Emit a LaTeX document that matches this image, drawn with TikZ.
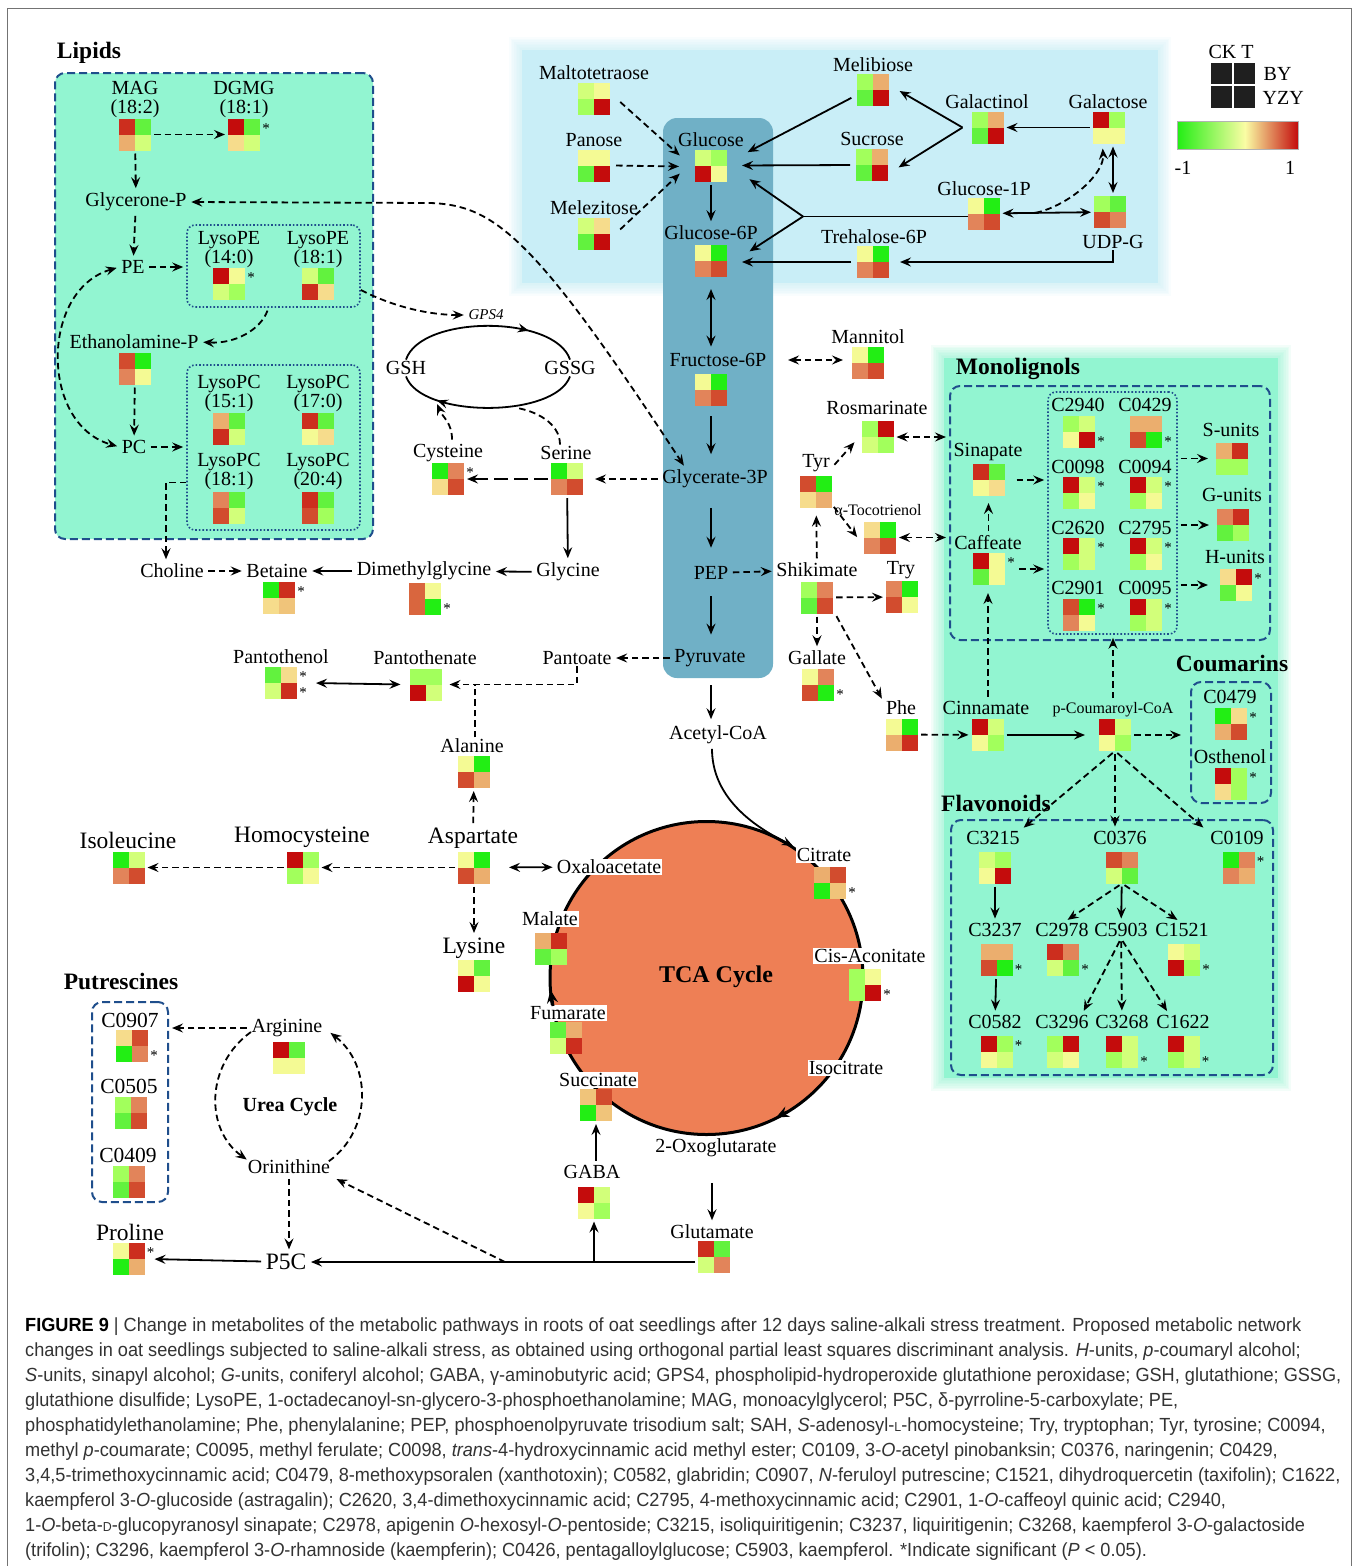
\documentclass[tikz,border=0pt]{standalone}
\usepackage{fontspec}
\setmainfont{Liberation Serif}
\newfontfamily\capfont[FakeStretch=0.955]{Liberation Sans}
\usetikzlibrary{arrows.meta,decorations.markings,calc}

\definecolor{cR}{HTML}{C40C0C}
\definecolor{cRR}{HTML}{CC2E1E}
\definecolor{cOR}{HTML}{D24C2E}
\definecolor{cOO}{HTML}{D9663E}
\definecolor{cO}{HTML}{E2845A}
\definecolor{cLO}{HTML}{EBAE6E}
\definecolor{cBO}{HTML}{F0C47A}
\definecolor{cBY}{HTML}{F6DC8C}
\definecolor{cPY}{HTML}{F4FA94}
\definecolor{cYG}{HTML}{D2FF7A}
\definecolor{cLG}{HTML}{A2FF5C}
\definecolor{cG}{HTML}{62F23E}
\definecolor{cGG}{HTML}{22EE14}
\definecolor{mint}{HTML}{92F5D1}
\definecolor{lblue}{HTML}{C9EEF7}
\definecolor{colblue}{HTML}{70B0C6}
\definecolor{boxblue}{HTML}{1F4E8C}
\definecolor{tcaC}{HTML}{EE7F55}
\definecolor{capgray}{HTML}{333333}

\newcommand{\hmap}[6]{%
  \node[hmb] (#1) at (#2) {};
  \fill[#3] (#1.north west) rectangle (#1.center);
  \fill[#4] (#1.north) rectangle (#1.east);
  \fill[#5] (#1.west) rectangle (#1.south);
  \fill[#6] (#1.center) rectangle (#1.south east);
}
\newcommand{\sigT}[1]{\node[sig] (#1t) at ([xshift=6pt,yshift=-10pt]#1.north east) {*};}
\newcommand{\sigB}[1]{\node[sig] (#1b) at ([xshift=6pt,yshift=6pt]#1.south east) {*};}
\newcommand{\softregion}[5]{%
  \foreach \k in {1,...,8}{
    \fill[#1, opacity=0.11] (#2-\k*1.6, #3-\k*1.6) rectangle (#4+\k*1.6, #5+\k*1.6);
  }
  \fill[#1] (#2,#3) rectangle (#4,#5);
}

\tikzset{
  lab/.style={inner sep=1.5pt, font=\fontsize{20}{20}\selectfont},
  lab2/.style={inner sep=1.5pt, align=center, font=\fontsize{20}{19}\selectfont},
  labB/.style={inner sep=1.5pt, font=\fontsize{23.5}{24}\selectfont},
  labM/.style={inner sep=1.5pt, font=\fontsize{21.5}{22}\selectfont},
  labS/.style={inner sep=1.5pt, font=\fontsize{16}{16}\selectfont},
  wlab/.style={lab, fill=white, inner sep=1pt},
  ttl/.style={inner sep=1pt, font=\fontsize{23.5}{24}\selectfont\bfseries},
  hmb/.style={minimum size=32pt, inner sep=0pt, outer sep=0pt},
  sig/.style={inner sep=0pt, font=\fontsize{15}{15}\selectfont},
  ar/.style={line width=1.8pt, ->, shorten <=3pt, shorten >=3pt},
  dar/.style={ar, dash pattern=on 6.5pt off 4pt},
  arB/.style={line width=1.8pt, <->, shorten <=3pt, shorten >=3pt},
  darB/.style={arB, dash pattern=on 6.5pt off 4pt},
  pl/.style={line width=1.8pt},
  dln/.style={line width=1.8pt, dash pattern=on 6.5pt off 4pt},
  dbox/.style={draw=boxblue, line width=2pt, dash pattern=on 8pt off 4pt, rounded corners=10pt, inner sep=0pt},
  dotb/.style={draw=boxblue, line width=1.6pt, dotted, rounded corners=8pt, inner sep=0pt},
  midarr/.style={postaction={decorate, decoration={markings, mark=at position #1 with {\arrow{Stealth[length=11pt,width=9pt,inset=4pt]}}}}},
}

\begin{document}
\begin{tikzpicture}[x=1pt, y=-1pt, >={Stealth[length=11pt,width=9pt,inset=4pt]}]
\fill[white] (0,0) rectangle (1358,1566);
\useasboundingbox (0,0) rectangle (1358,1566);
\draw[black!55, line width=0.8pt] (7,1570) -- (7,8) -- (1351,8) -- (1351,1570);

% ---------- background regions
\softregion{lblue}{522}{50}{1158}{283}
\softregion{mint}{944}{358}{1278}{1078}
\node[dbox, fill=mint, minimum width=318, minimum height=466] (bLip) at (214,306) {};
\node[fill=colblue, rounded corners=14pt, minimum width=110, minimum height=560, inner sep=0pt] (colG) at (718,398) {};
\node[circle, draw=black, line width=3pt, fill=tcaC, minimum size=313, inner sep=0pt] (TCA) at (706.5,978) {};

% boxes
\node[dotb, minimum width=173, minimum height=82] (bLPE) at (273.5,266) {};
\node[dotb, minimum width=173, minimum height=165] (bLPC) at (273.5,447.5) {};
\node[dbox, minimum width=320, minimum height=254] (bMono) at (1110,513) {};
\node[dotb, minimum width=129, minimum height=242] (bDot) at (1112.5,513) {};
\node[dbox, minimum width=80, minimum height=121] (bCou) at (1231,742.5) {};
\node[dbox, minimum width=322, minimum height=255] (bFla) at (1112,947.5) {};
\node[dbox, fill=white, minimum width=76, minimum height=200] (bPut) at (130,1102) {};

% ---------- titles
\node[ttl] (tLip) at (89,53) {Lipids};
\node[ttl] (tMono) at (1018,369) {Monolignols};
\node[ttl] (tCou) at (1232,663) {Coumarins};
\node[ttl] (tFla) at (996,803) {Flavonoids};
\node[ttl] (tPut) at (121,981) {Putrescines};
\node[ttl, font=\fontsize{24}{24}\selectfont\bfseries] (tTCA) at (716,977) {TCA Cycle};
\node[lab, font=\fontsize{20}{20}\selectfont\bfseries] (tUrea) at (290,1107) {Urea Cycle};

% ---------- legend
\node[lab] (CKT) at (1231,52) {CK T};
\fill[black!88] (1211,63) rectangle (1232,84);
\fill[black!88] (1234,63) rectangle (1255,84);
\fill[black!88] (1211,86) rectangle (1232,108);
\fill[black!88] (1234,86) rectangle (1255,108);
\node[lab, anchor=west] (BY) at (1262,74) {BY};
\node[lab, anchor=west] (YZY) at (1261,98) {YZY};
\shade[left color=cGG, right color=cPY!70!yellow!60!white] (1177,121) rectangle (1245,149);
\shade[left color=cPY!70!yellow!60!white, right color=cR] (1245,121) rectangle (1298,149);
\draw[black!30, line width=0.8pt] (1177,121) rectangle (1298,149);
\node[lab] (m1) at (1183,168) {-1};
\node[lab] (p1) at (1290,168) {1};

% ---------- labels
\node[lab2] (MAG) at (135,100) {MAG\\(18:2)};
\node[lab2] (DGMG) at (244,100) {DGMG\\(18:1)};
\node[lab] (Gly) at (136,202) {Glycerone-P};
\node[lab] (PE) at (133,267) {PE};
\node[lab2] (LPE14) at (229,250) {LysoPE\\(14:0)};
\node[lab2] (LPE18) at (318,250) {LysoPE\\(18:1)};
\node[lab] (Eth) at (134,342) {Ethanolamine-P};
\node[lab] (PC) at (134,447) {PC};
\node[lab2] (LPC15) at (229,394) {LysoPC\\(15:1)};
\node[lab2] (LPC17) at (318,394) {LysoPC\\(17:0)};
\node[lab2] (LPC18) at (229,472) {LysoPC\\(18:1)};
\node[lab2] (LPC20) at (318,472) {LysoPC\\(20:4)};
\node[lab] (Cho) at (172,571) {Choline};
\node[lab] (Bet) at (277,571) {Betaine};
\node[lab] (DMG) at (424,571) {Dimethylglycine};
\node[lab] (Glyc) at (568,572) {Glycine};
\node[lab] (Cys) at (448,453) {Cysteine};
\node[lab] (Ser) at (566,453) {Serine};
\node[lab] (G3P) at (715,479) {Glycerate-3P};
\node[lab] (GSH) at (406,368) {GSH};
\node[lab] (GSSG) at (570,368) {GSSG};
\node[lab, font=\fontsize{15}{15}\selectfont\itshape] (GPS) at (486,315) {GPS4};
\node[lab] (Malt) at (594,73) {Maltotetraose};
\node[lab] (Pan) at (594,140) {Panose};
\node[lab] (Mlz) at (594,208) {Melezitose};
\node[lab] (Glc) at (711,140) {Glucose};
\node[lab] (G6P) at (711,233) {Glucose-6P};
\node[lab] (F6P) at (718,360) {Fructose-6P};
\node[lab] (PEP) at (711,573) {PEP};
\node[lab] (Pyr) at (710,658) {Pyruvate};
\node[lab] (ACoA) at (718,735) {Acetyl-CoA};
\node[lab] (Meli) at (873,65) {Melibiose};
\node[lab] (Suc) at (872,139) {Sucrose};
\node[lab] (Gol) at (987,102) {Galactinol};
\node[lab] (Gal) at (1108,102) {Galactose};
\node[lab] (G1P) at (984,189) {Glucose-1P};
\node[lab] (UDP) at (1113,242) {UDP-G};
\node[lab] (T6P) at (874,237) {Trehalose-6P};
\node[lab] (Man) at (868,337) {Mannitol};
\node[lab] (Ros) at (877,408) {Rosmarinate};
\node[lab] (Tyr) at (816,463) {Tyr};
\node[labS] (Toc) at (878,510) {α-Tocotrienol};
\node[lab] (Shi) at (817,570) {Shikimate};
\node[lab] (Try) at (901,570) {Try};
\node[lab] (Gall) at (817,658) {Gallate};
\node[lab] (Phe) at (901,708) {Phe};
\node[lab] (Cin) at (986,708) {Cinnamate};
\node[labS] (CoA) at (1113,710) {p-Coumaroyl-CoA};
\node[lab] (Sin) at (988,452) {Sinapate};
\node[lab] (Caf) at (988,543) {Caffeate};
\node[lab] (C2940) at (1078,405) {C2940};
\node[lab] (C0429) at (1145,405) {C0429};
\node[lab] (C0098) at (1078,467) {C0098};
\node[lab] (C0094) at (1145,467) {C0094};
\node[lab] (C2620) at (1078,528) {C2620};
\node[lab] (C2795) at (1145,528) {C2795};
\node[lab] (C2901) at (1078,588) {C2901};
\node[lab] (C0095) at (1145,588) {C0095};
\node[lab] (Su) at (1231,430) {S-units};
\node[lab] (Gu) at (1232,495) {G-units};
\node[lab] (Hu) at (1235,557) {H-units};
\node[lab] (C0479) at (1230,697) {C0479};
\node[lab] (Ost) at (1230,757) {Osthenol};
\node[lab] (C3215) at (993,838) {C3215};
\node[lab] (C0376) at (1120,838) {C0376};
\node[lab] (C0109) at (1237,838) {C0109};
\node[lab] (C3237) at (995,930) {C3237};
\node[lab] (C2978) at (1062,930) {C2978};
\node[lab] (C5903) at (1121,930) {C5903};
\node[lab] (C1521) at (1182,930) {C1521};
\node[lab] (C0582) at (995,1022) {C0582};
\node[lab] (C3296) at (1062,1022) {C3296};
\node[lab] (C3268) at (1122,1022) {C3268};
\node[lab] (C1622) at (1183,1022) {C1622};
\node[lab] (Pol) at (281,657) {Pantothenol};
\node[lab] (Pat) at (425,658) {Pantothenate};
\node[lab] (Pto) at (577,658) {Pantoate};
\node[lab] (Ala) at (472,746) {Alanine};
\node[labB] (Asp) at (473,838) {Aspartate};
\node[labB] (Hcy) at (302,837) {Homocysteine};
\node[labB] (Ile) at (128,840) {Isoleucine};
\node[labB] (Lys) at (474,948) {Lysine};
\node[wlab] (Oxa) at (609,867) {Oxaloacetate};
\node[wlab] (Mal) at (550,919) {Malate};
\node[wlab] (Fum) at (568,1013) {Fumarate};
\node[wlab] (Succ) at (598,1080) {Succinate};
\node[wlab] (Cit) at (824,855) {Citrate};
\node[wlab] (Cis) at (870,956) {Cis-Aconitate};
\node[wlab] (Iso) at (846,1068) {Isocitrate};
\node[lab] (OG) at (716,1148) {2-Oxoglutarate};
\node[lab] (Glu) at (712,1232) {Glutamate};
\node[lab] (GABA) at (592,1172) {GABA};
\node[labB] (P5C) at (286,1262) {P5C};
\node[labB] (Pro) at (130,1232) {Proline};
\node[lab] (Orn) at (289,1167) {Orinithine};
\node[lab] (Arg) at (287,1028) {Arginine};
\node[labM] (C0907) at (130,1020) {C0907};
\node[labM] (C0505) at (129,1086) {C0505};
\node[labM] (C0409) at (128,1155) {C0409};

% ---------- heatmaps
\hmap{hMAG}{135,134.5}{cRR}{cG}{cLO}{cYG}
\hmap{hDGMG}{244,134.5}{cR}{cG}{cBY}{cYG}\sigT{hDGMG}
\hmap{hLPE14}{229,284}{cR}{cPY}{cYG}{cLG}\sigT{hLPE14}
\hmap{hLPE18}{318,284}{cYG}{cG}{cRR}{cBY}
\hmap{hEth}{135,368.5}{cOR}{cGG}{cO}{cPY}
\hmap{hLPC15}{229,429}{cLO}{cG}{cRR}{cYG}
\hmap{hLPC17}{318,429}{cRR}{cG}{cPY}{cBY}
\hmap{hLPC18}{229,508}{cO}{cG}{cOR}{cYG}
\hmap{hLPC20}{318,508}{cRR}{cG}{cOR}{cLG}
\hmap{hBet}{279,597.5}{cGG}{cRR}{cBY}{cBO}\sigT{hBet}
\hmap{hDMG}{425,599}{cOO}{cPY}{cOO}{cGG}\sigB{hDMG}
\hmap{hCys}{448,479}{cGG}{cO}{cBY}{cOR}\sigT{hCys}
\hmap{hSer}{567,479}{cGG}{cYG}{cO}{cOR}
\hmap{hMalt}{594,99}{cYG}{cPY}{cLG}{cR}
\hmap{hPan}{594,165.5}{cPY}{cPY}{cG}{cR}
\hmap{hMel}{594,233.5}{cYG}{cBY}{cG}{cR}
\hmap{hGlc}{711,165.5}{cYG}{cLG}{cR}{cPY}
\hmap{hG6P}{711,261}{cPY}{cGG}{cO}{cOR}
\hmap{hF6P}{711,390}{cPY}{cGG}{cO}{cOR}
\hmap{hMeli}{873,89.5}{cLG}{cLO}{cG}{cR}
\hmap{hSuc}{872,165}{cLG}{cLO}{cG}{cR}
\hmap{hGol}{987.5,127.5}{cLG}{cLO}{cG}{cR}
\hmap{hGal}{1108.5,127.5}{cR}{cLG}{cPY}{cPY}
\hmap{hG1P}{983.5,213.5}{cPY}{cGG}{cO}{cOR}
\hmap{hUDP}{1110,212}{cLG}{cG}{cOR}{cO}
\hmap{hT6P}{873,262}{cPY}{cGG}{cO}{cOR}
\hmap{hMan}{868,363}{cPY}{cGG}{cO}{cOR}
\hmap{hRos}{877.5,437}{cLG}{cR}{cYG}{cLG}
\hmap{hTyr}{816,491.5}{cOR}{cGG}{cBY}{cLO}
\hmap{hToc}{880,537.5}{cBY}{cGG}{cO}{cOR}
\hmap{hShi}{817,597.5}{cLG}{cO}{cG}{cOR}
\hmap{hTry}{902,597}{cO}{cGG}{cOR}{cPY}
\hmap{hGall}{818,685}{cPY}{cO}{cOR}{cGG}\sigB{hGall}
\hmap{hPhe}{902,734.5}{cPY}{cGG}{cLO}{cRR}
\hmap{hCin}{987.5,735}{cR}{cYG}{cPY}{cLG}
\hmap{hCoA}{1115,735}{cR}{cYG}{cPY}{cLG}
\hmap{hSin}{988.5,480}{cRR}{cG}{cPY}{cBY}
\hmap{hCaf}{989,569}{cR}{cPY}{cG}{cPY}\sigT{hCaf}
\hmap{hC2940}{1079,431.5}{cLG}{cYG}{cPY}{cR}\sigB{hC2940}
\hmap{hC0429}{1146,431.5}{cLO}{cLO}{cOR}{cGG}\sigB{hC0429}
\hmap{hC0098}{1079,492.5}{cR}{cYG}{cLG}{cPY}\sigT{hC0098}
\hmap{hC0094}{1146,492.5}{cR}{cYG}{cLG}{cPY}\sigT{hC0094}
\hmap{hC2620}{1079,554}{cR}{cYG}{cLG}{cYG}\sigT{hC2620}
\hmap{hC2795}{1146,554}{cR}{cYG}{cLG}{cPY}\sigT{hC2795}
\hmap{hC2901}{1079,615}{cOR}{cGG}{cO}{cPY}\sigT{hC2901}
\hmap{hC0095}{1146,615}{cR}{cYG}{cLG}{cYG}\sigT{hC0095}
\hmap{hSu}{1232,458.5}{cLO}{cRR}{cLG}{cLG}
\hmap{hGu}{1233,525}{cO}{cRR}{cG}{cLG}
\hmap{hHu}{1236,585}{cBY}{cR}{cG}{cPY}\sigT{hHu}
\hmap{hC0479}{1231,723.5}{cGG}{cBY}{cLO}{cOR}\sigT{hC0479}
\hmap{hOst}{1231,783.5}{cR}{cLG}{cBY}{cLG}\sigT{hOst}
\hmap{hC3215}{995,867.5}{cYG}{cLG}{cPY}{cR}
\hmap{hC0376}{1122,867.5}{cOR}{cO}{cYG}{cG}
\hmap{hC0109}{1238.5,867.5}{cGG}{cO}{cO}{cLO}\sigT{hC0109}
\hmap{hC3237}{996.5,960}{cLO}{cLO}{cOR}{cGG}\sigB{hC3237}
\hmap{hC2978}{1063,960}{cRR}{cO}{cYG}{cG}\sigB{hC2978}
\hmap{hC1521}{1184,960}{cPY}{cYG}{cR}{cLG}\sigB{hC1521}
\hmap{hC0582}{996.5,1051.5}{cR}{cLG}{cPY}{cYG}\sigT{hC0582}
\hmap{hC3296}{1062.5,1051.5}{cLG}{cR}{cYG}{cPY}
\hmap{hC3268}{1122,1051.5}{cR}{cYG}{cLG}{cYG}\sigB{hC3268}
\hmap{hC1622}{1183.5,1051.5}{cR}{cYG}{cLG}{cYG}\sigB{hC1622}
\hmap{hPol}{281,683}{cG}{cBY}{cYG}{cRR}\sigT{hPol}\sigB{hPol}
\hmap{hPat}{425.5,684.5}{cLG}{cLG}{cR}{cYG}
\hmap{hAla}{474,772}{cPY}{cGG}{cOR}{cLO}
\hmap{hAsp}{474,867.5}{cPY}{cGG}{cOR}{cLO}
\hmap{hHcy}{302.5,867.5}{cR}{cLG}{cLG}{cPY}
\hmap{hIle}{128.5,867.5}{cGG}{cYG}{cO}{cOR}
\hmap{hLys}{474,976}{cPY}{cG}{cR}{cPY}
\hmap{hMal}{551,949}{cLO}{cRR}{cG}{cLG}
\hmap{hCit}{830,882.5}{cLO}{cOR}{cGG}{cBO}\sigB{hCit}
\hmap{hCis}{865,984.5}{cLG}{cPY}{cLG}{cR}\sigB{hCis}
\hmap{hFum}{566,1037.5}{cG}{cLO}{cYG}{cRR}
\hmap{hSucc}{596,1105}{cBO}{cOR}{cGG}{cBO}
\hmap{hGABA}{594,1202.5}{cR}{cYG}{cPY}{cLG}
\hmap{hGlu}{714,1257}{cRR}{cG}{cYG}{cO}
\hmap{hPro}{128.5,1258.5}{cPY}{cRR}{cGG}{cLO}\sigT{hPro}
\hmap{hArg}{289,1057.5}{cR}{cG}{cPY}{cPY}
\hmap{hC0907}{132,1046}{cBY}{cOR}{cGG}{cO}\sigB{hC0907}
\hmap{hC0505}{131,1112.5}{cLG}{cO}{cG}{cOR}
\hmap{hC0409}{129,1182}{cLG}{cO}{cG}{cOR}

% ---------- connectors: lipids
\draw[dar] (hMAG) -- (hDGMG);
\draw[dar] (hMAG) -- (Gly);
\draw[dar] (Gly) -- (PE);
\draw[dar] (PE) -- (PE -| bLPE.west);
\draw[dar] ([xshift=-5pt]bLPE.south) .. controls +(-8,22) and +(35,2) .. (Eth.east);
\draw[dar] (hEth) -- (PC);
\draw[dar] (PC) -- (PC -| bLPC.west);
\draw[darB] (PE.west) .. controls (40,290) and (40,425) .. (PC.west);
\draw[dar, shorten <=0pt] ([yshift=-35pt]bLPC.west) -| ([xshift=-6pt]Cho.north);
\draw[darB] (Gly.east) -- (430,203) .. controls (495,205) and (535,238) .. ([xshift=25pt]G3P.north west);
\draw[dar, shorten <=0pt] ([yshift=-24pt]bLPE.east) .. controls +(35,18) and +(-35,0) .. (GPS.west);

% GSH cycle
\draw[pl, midarr=0.72] (GSH.north) .. controls +(15,-45) and +(-15,-45) .. (GSSG.north);
\draw[pl, midarr=0.78] (GSSG.south) .. controls +(-15,42) and +(15,42) .. (GSH.south);
\coordinate (gb1) at (437,404);
\coordinate (gb2) at (517,408);
\draw[dar, shorten >=0pt] ([xshift=4pt]Cys.north) .. controls +(0,-20) and +(6,14) .. (gb1);
\draw[dln] ([xshift=-6pt]Ser.north) .. controls +(0,-22) and +(18,3) .. (gb2);

% amino acids
\draw[dar, shorten >=12pt] (G3P) -- (hSer);
\draw[ar, dash pattern=on 14pt off 6pt] (hSer) -- (hCys);
\draw[ar] (hSer) -- (Glyc);
\draw[dar] (Cho) -- (Bet);
\draw[ar] (DMG) -- (Bet);
\draw[ar] (Glyc) -- (DMG);

% sugars
\draw[dar] ([xshift=8pt,yshift=-1pt]hMalt.east) -- ([xshift=-13pt,yshift=8pt]hGlc.west);
\draw[dar] ([xshift=3pt]hPan.east) -- ([xshift=-13pt,yshift=-1pt]hGlc.west);
\draw[dar] ([xshift=8pt,yshift=2pt]hMel.east) -- ([xshift=-13pt,yshift=-6pt]hGlc.west);
\draw[ar] ([xshift=-3pt,yshift=-7pt]hMeli.west) -- ([xshift=18pt,yshift=12pt]hGlc.east);
\draw[ar] ([xshift=-3pt]hSuc.west) -- ([xshift=12pt]hGlc.east);
\coordinate (jG) at ([xshift=-9pt]hGol.west);
\draw[ar, shorten <=0pt] (jG) -- ([xshift=8pt]hMeli.east);
\draw[ar, shorten <=0pt] (jG) -- ([xshift=8pt,yshift=-4pt]hSuc.east);
\draw[ar] (hGal) -- (hGol);
\draw[arB] ([xshift=4.5pt]hGal.south) -- ([xshift=3pt]hUDP.north);
\draw[arB] (hG1P) -- (hUDP);
\coordinate (jU) at ($(hG1P.east)!0.38!(hUDP.west)$);
\draw[dar, shorten <=0pt] (jU) .. controls +(35,-8) and +(2,28) .. ([xshift=-6pt,yshift=-2pt]hGal.south);
\coordinate (jT) at (803,216.5);
\draw[pl] ([yshift=-3pt]hG1P.west) -- (jT);
\draw[ar, shorten <=0pt] (jT) -- ([xshift=20pt,yshift=-12pt]hGlc.east);
\draw[ar, shorten <=0pt] (jT) -- ([xshift=20pt,yshift=8pt]hG6P.east);
\draw[ar, shorten <=0pt] (UDP.south) |- ([xshift=8pt]hT6P.east);
\draw[ar] ([xshift=-3pt]hT6P.west) -- ([xshift=12pt,yshift=-1pt]hG6P.east);
\draw[darB, shorten <=0pt, shorten >=0pt] ([xshift=20pt]F6P.east) -- ([xshift=-9pt]hMan.west |- F6P.east);

% glycolysis column
\draw[ar] (hGlc) -- (G6P);
\draw[arB, shorten <=12pt, shorten >=5pt] (hG6P.south) -- (hG6P.south |- F6P.north);
\draw[ar, shorten <=10pt, shorten >=14pt] (hF6P.south) -- (hF6P.south |- G3P.north);
\draw[ar, shorten <=18pt, shorten >=17pt] (G3P.south -| hF6P) -- (PEP.north -| hF6P);
\draw[ar, shorten <=15pt, shorten >=13pt] (PEP.south -| hF6P) -- (Pyr.north -| hF6P);
\draw[ar, shorten <=17pt, shorten >=5pt] (Pyr.south -| hF6P) -- (ACoA.north -| hF6P);
\draw[ar] ([xshift=-6pt]ACoA.south) .. controls +(0,50) and +(-45,-22) .. (Cit.north west);

% TCA cycle arrows on the ring
\draw[line width=3pt, -{Stealth[length=13pt,width=11pt,inset=4.5pt]}] (553,1006) -- (550.5,990);
\draw[line width=3pt, -{Stealth[length=13pt,width=11pt,inset=4.5pt]}] (787,1112) -- (776,1117.5);

% aspartate family
\draw[dar] (Asp) -- (hAla);
\draw[dar] (hAsp) -- (hHcy);
\draw[dar] (hHcy) -- (hIle);
\draw[arB, shorten <=19pt] (hAsp) -- (Oxa);
\draw[dar] (hAsp) -- (Lys);

% pantothenate
\draw[arB] ([xshift=16pt]hPol.east) -- ([xshift=-6pt]hPat.west);
\draw[dar] (Pyr) -- (Pto);
\draw[dar, shorten <=0pt] (Pto.south) |- ([xshift=5pt]hPat.east);
\draw[dln] ([xshift=3pt]Ala.north) -- ([xshift=3pt]Ala.north |- hPat.east);

% shikimate / phenylpropanoids
\draw[dar] (PEP) -- (Shi);
\draw[dar, shorten >=8pt] (Shi) -- (hTyr);
\draw[dar] ([xshift=1pt,yshift=-4pt]Tyr.east) -- ([xshift=-5pt,yshift=-3pt]hRos.west);
\draw[dar] ([yshift=-13pt]hTyr.east) -- ([xshift=-5pt,yshift=-2pt]hToc.west);
\draw[darB] (hRos) -- (hRos -| bMono.west);
\draw[darB] (hToc) -- (hToc -| bMono.west);
\draw[dar] (hShi) -- (hTry);
\draw[dar] (hShi) -- (Gall);
\draw[dar] ([xshift=2pt]hShi.south east) -- ([xshift=-1pt,yshift=-2pt]Phe.north west);
\draw[dar] (hPhe) -- (hCin);
\draw[ar, shorten >=14pt] (hCin) -- (hCoA);
\draw[dar, shorten >=9pt] (hCoA) -- (hCoA -| bCou.west);
\draw[dar, shorten >=8pt] ([xshift=2pt]Cin.north) -- ([xshift=2pt]Cin.north |- hCaf.south);
\draw[dar, shorten >=7pt] (Caf.north -| hSin) -- (hSin.south);
\draw[dar] (CoA.north) -- (CoA.north |- bDot.south);
\draw[dar] (hCoA.south) -- (C3215.north east);
\draw[dar] (hCoA.south) -- (hCoA.south |- C0376.north);
\draw[dar] (hCoA.south) -- ([xshift=-3pt]C0109.north west);

% monolignols
\draw[dar, shorten <=12pt] (hSin) -- (hSin -| bDot.west);
\draw[dar, shorten <=14pt] (hCaf) -- (hCaf -| bDot.west);
\draw[dar, shorten >=8pt] (bDot.east |- hSu) -- (hSu);
\draw[dar, shorten >=8pt] (bDot.east |- hGu) -- (hGu);
\draw[dar, shorten >=12pt] (bDot.east |- hHu) -- (hHu);

% flavonoids
\draw[ar] (hC3215) -- (C3237);
\draw[ar] (hC3237) -- (C0582);
\draw[dar] (hC0376.south) -- ([xshift=3pt]C2978.north);
\draw[ar] (hC0376) -- (C5903);
\draw[dar] (hC0376.south) -- ([xshift=-2pt]C1521.north);
\draw[dar] (C5903.south) -- ([xshift=-8pt]C3296.north east);
\draw[dar] (C5903) -- (C3268);
\draw[dar] (C5903.south) -- ([xshift=14pt]C1622.north west);

% urea cycle & proline
\draw[dar] (Arg.west) -- (Arg.west -| bPut.east);
\draw[dar, shorten <=0pt] ([xshift=1pt,yshift=-4pt]Arg.west) .. controls (205,1065) and (205,1130) .. ([xshift=3pt,yshift=-3pt]Orn.north west);
\draw[dar, shorten <=0pt] ([xshift=-3pt,yshift=-3pt]Orn.north east) .. controls (372,1130) and (372,1065) .. ([xshift=4pt,yshift=-3pt]Arg.east);
\draw[dar] (Orn.south) -- (Orn.south |- P5C.north);
\draw[ar] (hGlu.west |- P5C) -- (P5C);
\coordinate (jGA) at (hGABA.south |- P5C);
\draw[ar, shorten <=0pt] (jGA) -- (hGABA.south);
\coordinate (jOr) at (505,1262);
\draw[dar, shorten <=0pt] (jOr) -- ([xshift=2pt,yshift=-2pt]Orn.south east);
\draw[ar, shorten >=10pt] (P5C) -- (hPro);
\draw[ar, shorten <=24pt] (OG.south -| Glu) -- (Glu.north);
\draw[ar] (GABA.north -| hSucc) -- (hSucc.south);

% ---------- caption
\node[anchor=north west, inner sep=0pt, align=left, text=capgray,
      font=\capfont\fontsize{19}{25}\selectfont] (cap) at (25,1318) {%
{\color{black}\bfseries FIGURE 9} | Change in metabolites of the metabolic pathways in roots of oat seedlings after 12 days saline-alkali stress treatment. Proposed metabolic network\\
changes in oat seedlings subjected to saline-alkali stress, as obtained using orthogonal partial least squares discriminant analysis. \textit{H}-units, \textit{p}-coumaryl alcohol;\\
\textit{S}-units, sinapyl alcohol; \textit{G}-units, coniferyl alcohol; GABA, γ-aminobutyric acid; GPS4, phospholipid-hydroperoxide glutathione peroxidase; GSH, glutathione; GSSG,\\
glutathione disulfide; LysoPE, 1-octadecanoyl-sn-glycero-3-phosphoethanolamine; MAG, monoacylglycerol; P5C, δ-pyrroline-5-carboxylate; PE,\\
phosphatidylethanolamine; Phe, phenylalanine; PEP, phosphoenolpyruvate trisodium salt; SAH, \textit{S}-adenosyl-{\fontsize{13}{13}\selectfont L}-homocysteine; Try, tryptophan; Tyr, tyrosine; C0094,\\
methyl \textit{p}-coumarate; C0095, methyl ferulate; C0098, \textit{trans}-4-hydroxycinnamic acid methyl ester; C0109, 3-\textit{O}-acetyl pinobanksin; C0376, naringenin; C0429,\\
3,4,5-trimethoxycinnamic acid; C0479, 8-methoxypsoralen (xanthotoxin); C0582, glabridin; C0907, \textit{N}-feruloyl putrescine; C1521, dihydroquercetin (taxifolin); C1622,\\
kaempferol 3-\textit{O}-glucoside (astragalin); C2620, 3,4-dimethoxycinnamic acid; C2795, 4-methoxycinnamic acid; C2901, 1-\textit{O}-caffeoyl quinic acid; C2940,\\
1-\textit{O}-beta-{\fontsize{13}{13}\selectfont D}-glucopyranosyl sinapate; C2978, apigenin \textit{O}-hexosyl-\textit{O}-pentoside; C3215, isoliquiritigenin; C3237, liquiritigenin; C3268, kaempferol 3-\textit{O}-galactoside\\
(trifolin); C3296, kaempferol 3-\textit{O}-rhamnoside (kaempferin); C0426, pentagalloylglucose; C5903, kaempferol. *Indicate significant (\textit{P} < 0.05).};
\end{tikzpicture}
\end{document}
